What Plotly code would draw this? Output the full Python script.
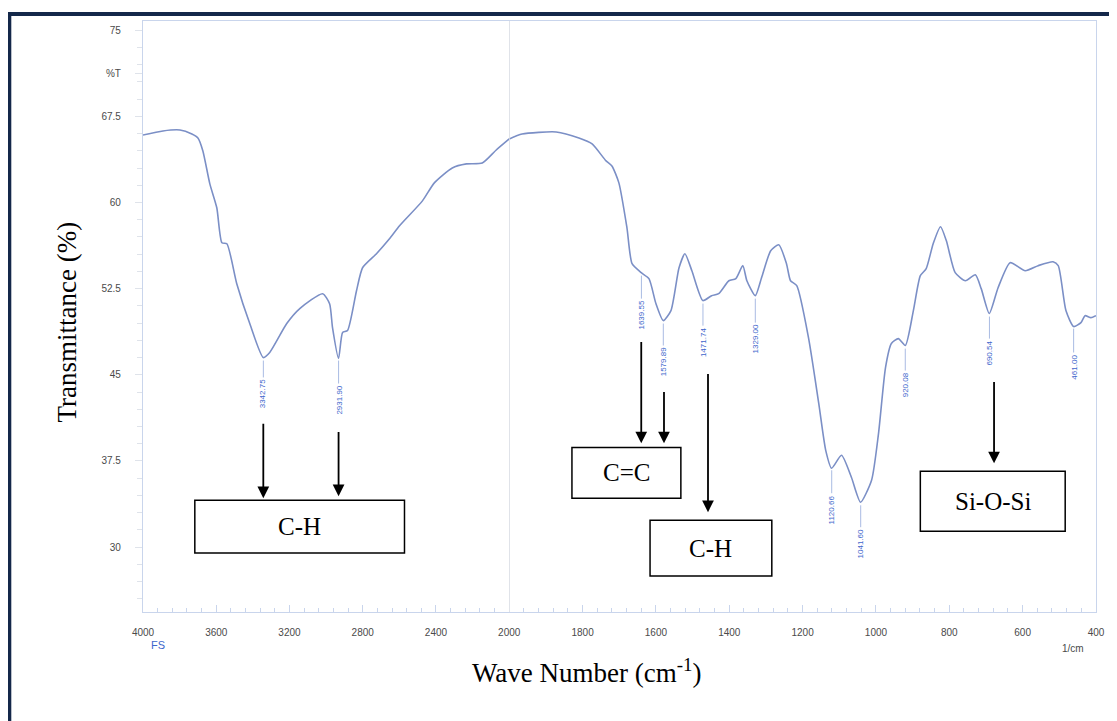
import plotly.graph_objects as go

# ---------------- data ----------------
wavenumber = [4000, 3891, 3798, 3733, 3700, 3673, 3635, 3597, 3569, 3542, 3488, 3417,
              3343, 3308, 3215, 3144, 3019, 2981, 2965, 2932, 2910, 2883, 2834, 2801,
              2725, 2654, 2599, 2474, 2409, 2311, 2234, 2147, 2071, 2000,
              1965, 1872, 1810, 1774, 1736, 1720, 1701, 1679, 1665, 1640, 1619, 1600,
              1580, 1559, 1537, 1521, 1502, 1472, 1448, 1429, 1401, 1382, 1363, 1352,
              1329, 1312, 1287, 1265, 1244, 1233, 1216, 1184, 1156, 1137, 1121, 1094,
              1067, 1042, 1012, 993, 974, 958, 939, 920, 898, 879, 863, 844, 824, 808,
              784, 756, 729, 713, 691, 667, 634, 593, 558, 517, 503, 482, 461, 441,
              430, 414, 400]
transmittance = [65.88, 66.23, 66.31, 65.96, 65.62, 64.49, 61.62, 59.54, 56.49, 56.41, 52.93, 49.46,
                 46.50, 46.94, 49.46, 50.76, 52.06, 51.19, 49.11, 46.42, 48.68, 48.85, 52.32, 54.32,
                 55.54, 56.84, 57.97, 60.14, 61.71, 63.01, 63.36, 63.44, 64.57, 65.53,
                 65.96, 66.14, 65.62, 65.10, 63.62, 63.18, 61.71, 57.80, 54.67, 53.89, 53.37, 51.20,
                 49.72, 50.59, 54.32, 55.54, 54.06, 51.46, 51.89, 52.06, 53.19, 53.37, 54.50, 53.19,
                 51.89, 53.45, 55.80, 56.32, 54.67, 53.19, 52.76, 48.24, 42.51, 38.42, 36.86, 37.99,
                 36.08, 33.91, 35.82, 39.90, 45.63, 47.72, 48.15, 47.55, 50.59, 53.63, 54.24, 56.41, 57.89, 56.67,
                 53.89, 53.19, 53.71, 52.50, 50.33, 52.58, 54.76, 54.06, 54.50, 54.84, 54.50, 50.59, 49.20, 49.54,
                 50.15, 49.98, 50.15]

peak_wavenumbers = [3342.75, 2931.90, 1639.55, 1579.89, 1471.74, 1329.00,
                    1120.66, 1041.60, 920.08, 690.54, 461.00]
peak_labels = ["3342.75", "2931.90", "1639.55", "1579.89", "1471.74", "1329.00",
               "1120.66", "1041.60", "920.08", "690.54", "461.00"]

group_labels = ["C-H", "C=C", "C-H", "Si-O-Si"]

y_tick_values = [30, 37.5, 45, 52.5, 60, 67.5, 71.25, 75]
y_tick_text = ["30", "37.5", "45", "52.5", "60", "67.5", "%T", "75"]
x_left_ticks = [4000, 3600, 3200, 2800, 2400]
x_right_ticks = [2000, 1800, 1600, 1400, 1200, 1000, 800, 600, 400]

# ---------------- placement (not data) ----------------
SPLIT = 367 / 955
Y_RANGE = [24.35, 75.8]
leader_start = [46.24, 46.24, 53.63, 49.46, 51.20, 51.63, 36.69, 33.64, 47.28, 50.07, 49.02]
label_top = [44.77, 44.24, 51.63, 47.55, 49.28, 49.54, 34.69, 31.73, 45.37, 48.15, 46.94]

# boxes: (axis, x0, x1, y0, y1)
boxes = [("x", 3717, 2572, 29.48, 34.08),
         ("x2", 1829, 1532, 34.25, 38.68),
         ("x2", 1616, 1284, 27.48, 32.34),
         ("x2", 879, 484, 31.39, 36.60)]
# arrows: (axis, x, y_tail, y_head)
arrows = [("x", 3343, 40.86, 34.25),
          ("x", 2932, 40.16, 34.43),
          ("x2", 1640, 47.98, 39.03),
          ("x2", 1578, 43.64, 39.03),
          ("x2", 1458, 45.20, 33.04),
          ("x2", 678, 44.50, 37.29)]

LINE_COLOR = "#7b8fc6"
LABEL_BLUE = "#3d66cc"
AXIS_COLOR = "#c9d5ec"
TICK_FONT = dict(family="Liberation Sans, Arial", size=10, color="#4a4a4a")
SERIF = "Liberation Serif, Times New Roman, serif"

left_x = [w for w in wavenumber if w >= 2000]
left_y = [t for w, t in zip(wavenumber, transmittance) if w >= 2000]
right_x = [w for w in wavenumber if w <= 2000]
right_y = [t for w, t in zip(wavenumber, transmittance) if w <= 2000]

fig = go.Figure()
fig.add_trace(go.Scatter(x=left_x, y=left_y, mode="lines", xaxis="x", yaxis="y",
                         line=dict(color=LINE_COLOR, width=1.6, shape="spline", smoothing=0.6),
                         showlegend=False, hoverinfo="skip"))
fig.add_trace(go.Scatter(x=right_x, y=right_y, mode="lines", xaxis="x2", yaxis="y2",
                         line=dict(color=LINE_COLOR, width=1.6, shape="spline", smoothing=0.6),
                         showlegend=False, hoverinfo="skip"))

shapes = []
annotations = []

# divider at 2000
shapes.append(dict(type="line", xref="x2", yref="paper", x0=2000, x1=2000, y0=0, y1=1,
                   line=dict(color="#cfd3dc", width=1.2)))

# peak labels + leader lines
for wn, lab, ys, yt in zip(peak_wavenumbers, peak_labels, leader_start, label_top):
    ax = "x" if wn >= 2000 else "x2"
    ya = "y" if ax == "x" else "y2"
    shapes.append(dict(type="line", xref=ax, yref=ya, x0=wn, x1=wn, y0=ys, y1=yt,
                       line=dict(color="#a9bbe3", width=1)))
    annotations.append(dict(xref=ax, yref=ya, x=wn, y=yt, text=lab, showarrow=False,
                            textangle=-90, yanchor="top", xanchor="center",
                            font=dict(family="Liberation Sans, Arial", size=8, color=LABEL_BLUE)))

# boxes with group labels
for (ax, x0, x1, y0, y1), lab in zip(boxes, group_labels):
    ya = "y" if ax == "x" else "y2"
    shapes.append(dict(type="rect", xref=ax, yref=ya, x0=x0, x1=x1, y0=y0, y1=y1,
                       line=dict(color="black", width=1.5), fillcolor="white"))
    annotations.append(dict(xref=ax, yref=ya, x=(x0 + x1) / 2, y=(y0 + y1) / 2, text=lab,
                            showarrow=False, font=dict(family=SERIF, size=25, color="black")))

# arrows
for ax, x, yt, yh in arrows:
    ya = "y" if ax == "x" else "y2"
    annotations.append(dict(xref=ax, yref=ya, x=x, y=yh, axref=ax, ayref=ya, ax=x, ay=yt,
                            text="", showarrow=True, arrowhead=2, arrowsize=1.3,
                            arrowwidth=1.8, arrowcolor="black"))

# outer dark frame
shapes.append(dict(type="rect", xref="paper", yref="paper", x0=-0.1403, x1=1.03,
                   y0=-0.3, y1=1.0118, line=dict(color="#14284a", width=4)))

# axis titles and small labels
annotations.append(dict(xref="paper", yref="paper", x=0.466, y=-0.132,
                        text="Wave Number (cm<sup>-1</sup>)", showarrow=False,
                        font=dict(family=SERIF, size=27, color="black")))
annotations.append(dict(xref="paper", yref="paper", x=-0.0974, y=0.49,
                        text="Transmittance (%)", showarrow=False, textangle=-90,
                        font=dict(family=SERIF, size=27, color="black")))
annotations.append(dict(xref="paper", yref="paper", x=0.006, y=-0.07, text="FS",
                        showarrow=False, font=dict(family="Liberation Sans, Arial", size=11,
                                                   color=LABEL_BLUE)))
annotations.append(dict(xref="paper", yref="paper", x=0.99, y=-0.075, text="1/cm",
                        showarrow=False, font=dict(family="Liberation Sans, Arial", size=10,
                                                   color="#4a4a4a")))

xcommon = dict(showline=True, linecolor=AXIS_COLOR, linewidth=1.2, mirror=True,
               showgrid=False, zeroline=False, ticks="inside", ticklen=7,
               tickcolor=AXIS_COLOR, tickfont=TICK_FONT, tickmode="array",
               ticklabelstandoff=11)

fig.update_layout(
    width=1109, height=713,
    margin=dict(l=135, r=19, t=12, b=109),
    paper_bgcolor="white", plot_bgcolor="white",
    xaxis=dict(domain=[0, SPLIT], range=[4000, 2000], anchor="y",
               tickvals=x_left_ticks, ticktext=[str(v) for v in x_left_ticks],
               minor=dict(dtick=80, tick0=4000, ticklen=4, ticks="inside", tickcolor=AXIS_COLOR),
               **xcommon),
    xaxis2=dict(domain=[SPLIT, 1], range=[2000, 400], anchor="y2",
                tickvals=x_right_ticks, ticktext=[str(v) for v in x_right_ticks],
                minor=dict(dtick=40, tick0=2000, ticklen=4, ticks="inside", tickcolor=AXIS_COLOR),
                **xcommon),
    yaxis=dict(range=Y_RANGE, anchor="x", showline=True, linecolor=AXIS_COLOR, linewidth=1.2,
               showgrid=False, zeroline=False, ticks="outside", ticklen=7,
               tickcolor="#dfe3ea", tickmode="array", tickvals=y_tick_values,
               ticktext=y_tick_text, tickfont=TICK_FONT, ticklabelstandoff=12,
               minor=dict(tickmode="linear", tick0=30, dtick=1.5, ticklen=5,
                          ticks="outside", tickcolor="#dfe3ea")),
    yaxis2=dict(range=Y_RANGE, anchor="x2", side="right", matches="y", showline=True,
                linecolor=AXIS_COLOR, linewidth=1.2, showgrid=False, zeroline=False,
                showticklabels=False, ticks=""),
    shapes=shapes, annotations=annotations,
)

fig.write_html("out.html")
